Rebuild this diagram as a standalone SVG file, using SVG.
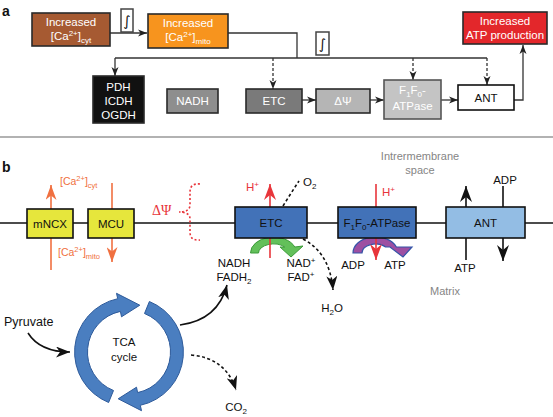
<svg xmlns="http://www.w3.org/2000/svg" width="553" height="417" viewBox="0 0 553 417">
<defs>
<style>
text{font-family:"Liberation Sans",Arial,sans-serif;}
.w{fill:#fff;font-size:11.5px;text-anchor:middle;}
.k{fill:#111;font-size:11.5px;text-anchor:middle;}
.g{fill:#858585;font-size:11px;text-anchor:middle;}
.o{fill:#f07040;font-size:10.5px;}
.r{fill:#e8353b;font-size:11.5px;}
.ln{fill:none;stroke:#333;stroke-width:1.3;}
.da{fill:none;stroke:#333;stroke-width:1.3;stroke-dasharray:3,2;}
.bx{stroke:#2a2a2a;stroke-width:1.6;}
.bb{stroke:#111;stroke-width:1.6;}
</style>
<marker id="mA" markerUnits="userSpaceOnUse" markerWidth="10" markerHeight="8" refX="9" refY="4" orient="auto"><path d="M0,0.5 L9,4 L0,7.5 L2.5,4 z" fill="#222"/></marker>
<marker id="mB" markerUnits="userSpaceOnUse" markerWidth="18" markerHeight="12" refX="16" refY="6" orient="auto"><path d="M0,0 L16,6 L0,12 L5,6 z" fill="#111"/></marker>
<marker id="mR" markerUnits="userSpaceOnUse" markerWidth="18" markerHeight="12" refX="16" refY="6" orient="auto"><path d="M0,0 L16,6 L0,12 L5,6 z" fill="#e8353b"/></marker>
<marker id="mO" markerUnits="userSpaceOnUse" markerWidth="16" markerHeight="11" refX="15" refY="5.5" orient="auto"><path d="M0,0 L15,5.5 L0,11 L4.5,5.5 z" fill="#f07040"/></marker>
<marker id="mC" markerUnits="userSpaceOnUse" markerWidth="15" markerHeight="11" refX="14" refY="5.5" orient="auto"><path d="M0,0 L14,5.5 L0,11 L4,5.5 z" fill="#111"/></marker>
</defs>
<rect width="553" height="417" fill="#fff"/>

<!-- Panel labels -->
<text x="2" y="16" font-size="14" font-weight="bold" fill="#111">a</text>
<text x="2" y="172" font-size="14" font-weight="bold" fill="#111">b</text>
<line x1="0" y1="137" x2="553" y2="137" stroke="#666" stroke-width="1.2"/>

<!-- Panel a connectors -->
<g id="connectors-a">
<line class="ln" x1="110" y1="33" x2="147" y2="33" marker-end="url(#mA)"/>
<polyline class="ln" points="228,33 297,33 297,58"/>
<line class="ln" x1="115" y1="58" x2="487" y2="58"/>
<line class="ln" x1="115" y1="58" x2="115" y2="76" marker-end="url(#mA)"/>
<line class="da" x1="273" y1="58" x2="273" y2="89" marker-end="url(#mA)"/>
<line class="da" x1="413" y1="58" x2="413" y2="80" marker-end="url(#mA)"/>
<line class="da" x1="487" y1="58" x2="487" y2="85" marker-end="url(#mA)"/>
<line class="ln" x1="302" y1="100" x2="316" y2="100" marker-end="url(#mA)"/>
<line class="ln" x1="370" y1="100" x2="384" y2="100" marker-end="url(#mA)"/>
<line class="ln" x1="441" y1="100" x2="458" y2="100" marker-end="url(#mA)"/>
<polyline class="ln" points="514,100 523,100 523,45" marker-end="url(#mA)"/>
</g>

<!-- Panel a nodes -->
<g id="cyt">
<rect class="bx" x="32" y="13" width="78" height="33" fill="#a65a32"/>
<text class="w" x="71" y="26">Increased</text>
<text class="w" x="71" y="40">[Ca<tspan font-size="8" dy="-4.5">2+</tspan><tspan dy="4.5">]</tspan><tspan font-size="8" dy="3">cyt</tspan></text>
</g>
<g id="int1">
<rect x="121" y="9" width="12" height="23" fill="#fff" stroke="#444" stroke-width="1.5"/>
<text x="127" y="26" font-size="14" text-anchor="middle" fill="#111" style="font-family:'DejaVu Sans',sans-serif">∫</text>
</g>
<g id="mito">
<rect class="bx" x="148" y="14" width="80" height="34" fill="#f7941e"/>
<text class="w" x="188" y="27">Increased</text>
<text class="w" x="188" y="41">[Ca<tspan font-size="8" dy="-4.5">2+</tspan><tspan dy="4.5">]</tspan><tspan font-size="8" dy="3">mito</tspan></text>
</g>
<g id="int2">
<rect x="316" y="32" width="13" height="23" fill="#fff" stroke="#444" stroke-width="1.5"/>
<text x="322.5" y="49" font-size="14" text-anchor="middle" fill="#111" style="font-family:'DejaVu Sans',sans-serif">∫</text>
</g>
<g id="atpprod">
<rect class="bx" x="463" y="12" width="84" height="32" fill="#e3272b"/>
<text class="w" x="505" y="25">Increased</text>
<text class="w" x="505" y="39">ATP production</text>
</g>
<g id="pdh">
<rect class="bx" x="93" y="76" width="51" height="47" fill="#111"/>
<text class="w" x="118.5" y="91">PDH</text>
<text class="w" x="118.5" y="105">ICDH</text>
<text class="w" x="118.5" y="119">OGDH</text>
</g>
<g id="nadh-a">
<rect class="bx" x="167" y="89" width="51" height="24" fill="#8e8e8e"/>
<text class="w" x="192.5" y="105">NADH</text>
</g>
<g id="etc-a">
<rect class="bx" x="246" y="89" width="56" height="24" fill="#7a7a7a"/>
<text class="w" x="274" y="105">ETC</text>
</g>
<g id="dpsi-a">
<rect class="bx" x="316" y="89" width="54" height="24" fill="#b5b5b5"/>
<text class="w" x="343" y="104.5" font-size="10">ΔΨ</text>
</g>
<g id="f1f0-a">
<rect x="384" y="80" width="57" height="39" fill="#c4c4c4" stroke="#555" stroke-width="1.6"/>
<text class="w" x="412.5" y="94">F<tspan font-size="8" dy="2.5">1</tspan><tspan dy="-2.5">F</tspan><tspan font-size="8" dy="2.5">0</tspan><tspan dy="-2.5">-</tspan></text>
<text class="w" x="412.5" y="110">ATPase</text>
</g>
<g id="ant-a">
<rect class="bb" x="458" y="85" width="56" height="25" fill="#fff"/>
<text class="k" x="486" y="101.5">ANT</text>
</g>

<!-- Panel b -->
<text class="g" x="420" y="160">Intrermembrane</text>
<text class="g" x="420" y="174">space</text>
<text class="g" x="445" y="295">Matrix</text>

<g id="connectors-b">
<line x1="0" y1="223" x2="553" y2="223" stroke="#111" stroke-width="1.5"/>
<!-- green arc -->
<path d="M250.5,253 A23,16 0 0 1 294.8,247 L303,246 L291,257 L280,247 L284.7,247 A15,9 0 0 0 258.5,253 Z" fill="#63c05a" stroke="#3d9b3a" stroke-width="1"/>
<!-- purple arc -->
<path d="M353,253 A22.5,16 0 0 1 396.4,247 L412,247 L403,257 L390,247 L385.6,247 A13.5,9 0 0 0 362,253 Z" fill="#9d4fa2" stroke="#3455a8" stroke-width="1.2"/>
<line x1="51" y1="270" x2="51" y2="185" stroke="#f07040" stroke-width="1.6" marker-end="url(#mO)"/>
<line x1="112" y1="183" x2="112" y2="262" stroke="#f07040" stroke-width="1.6" marker-end="url(#mO)"/>
<line x1="270" y1="258" x2="270" y2="184" stroke="#e8353b" stroke-width="1.6" marker-end="url(#mR)"/>
<line x1="376" y1="184" x2="376" y2="260" stroke="#e8353b" stroke-width="1.6" marker-end="url(#mR)"/>
<line x1="466" y1="260" x2="466" y2="186" stroke="#111" stroke-width="1.6" marker-end="url(#mB)"/>
<line x1="503" y1="186" x2="503" y2="261" stroke="#111" stroke-width="1.6" marker-end="url(#mB)"/>
<path d="M283,206 Q291,193 299,181" fill="none" stroke="#111" stroke-width="1.6" stroke-dasharray="3,2.5"/>
<path d="M303,239 Q330,253 333,290" fill="none" stroke="#111" stroke-width="1.6" stroke-dasharray="3,2.5" marker-end="url(#mC)"/>
<path d="M28,333 Q40,352 70,352" fill="none" stroke="#111" stroke-width="1.6" marker-end="url(#mC)"/>
<path d="M180,325 Q218,320 227,285" fill="none" stroke="#111" stroke-width="1.6" marker-end="url(#mC)"/>
<path d="M191,355 Q226,358 236,390" fill="none" stroke="#111" stroke-width="1.6" stroke-dasharray="3,2.5" marker-end="url(#mC)"/>
<path d="M200,184 Q190,183 190,192 L190,205 Q190,212 179,212 Q190,212 190,219 L190,232 Q190,241 200,240" fill="none" stroke="#e8353b" stroke-width="1.6" stroke-dasharray="2,2.2"/>
</g>

<g id="mncx">
<rect class="bb" x="27" y="209" width="46" height="29" fill="#e6e63c"/>
<text class="k" x="50" y="228">mNCX</text>
</g>
<g id="mcu">
<rect class="bb" x="88" y="209" width="46" height="29" fill="#e6e63c"/>
<text class="k" x="111" y="228">MCU</text>
</g>
<g id="etc-b">
<rect class="bb" x="235" y="207" width="72" height="31" fill="#4272b8"/>
<text class="k" x="271" y="227">ETC</text>
</g>
<g id="f1f0-b">
<rect class="bb" x="338" y="207" width="78" height="31" fill="#4272b8"/>
<text class="k" x="377" y="227">F<tspan font-size="8" dy="2.5">1</tspan><tspan dy="-2.5">F</tspan><tspan font-size="8" dy="2.5">0</tspan><tspan dy="-2.5">-ATPase</tspan></text>
</g>
<g id="ant-b">
<rect class="bb" x="446" y="207" width="79" height="31" fill="#93bde4"/>
<text class="k" x="485.5" y="227">ANT</text>
</g>

<g id="tca">
<path d="M108.6,402.5 A54.5,54.5 0 0 1 117.7,298.7 L116.5,293.3 L139.8,305.2 L121.5,316.8 L120.4,311.4 A41.5,41.5 0 0 0 113.5,390.5 Z" fill="#4a7ec0" stroke="#2d5a9a" stroke-width="1"/>
<path d="M149.4,301.5 A54.5,54.5 0 0 1 140.3,405.3 L141.5,410.7 L118.2,398.8 L136.5,387.2 L137.6,392.6 A41.5,41.5 0 0 0 144.5,313.5 Z" fill="#4a7ec0" stroke="#2d5a9a" stroke-width="1"/>
<text class="k" x="124" y="346">TCA</text>
<text class="k" x="124" y="361">cycle</text>
</g>

<g id="labels-b">
<text class="o" x="60" y="185">[Ca<tspan font-size="7.5" dy="-4">2+</tspan><tspan dy="4">]</tspan><tspan font-size="7.5" dy="2.5">cyt</tspan></text>
<text class="o" x="58" y="256">[Ca<tspan font-size="7.5" dy="-4">2+</tspan><tspan dy="4">]</tspan><tspan font-size="7.5" dy="2.5">mito</tspan></text>
<text x="152" y="215" font-size="14" fill="#e8353b" style="font-family:'Liberation Serif',serif">ΔΨ</text>
<text class="r" x="246" y="191">H<tspan font-size="8" dy="-4.5">+</tspan></text>
<text class="r" x="382" y="196">H<tspan font-size="8" dy="-4.5">+</tspan></text>
<text x="303" y="186" font-size="11.5" fill="#111">O<tspan font-size="8" dy="3">2</tspan></text>
<text class="k" x="234" y="267">NADH</text>
<text class="k" x="234" y="281">FADH<tspan font-size="8" dy="3">2</tspan></text>
<text class="k" x="301" y="267">NAD<tspan font-size="8" dy="-4.5">+</tspan></text>
<text class="k" x="301" y="281">FAD<tspan font-size="8" dy="-4.5">+</tspan></text>
<text class="k" x="332" y="312">H<tspan font-size="8" dy="3">2</tspan><tspan dy="-3">O</tspan></text>
<text class="k" x="353" y="269">ADP</text>
<text class="k" x="395" y="269">ATP</text>
<text class="k" x="465" y="272">ATP</text>
<text class="k" x="505" y="184">ADP</text>
<text x="4" y="326" font-size="12.5" fill="#111">Pyruvate</text>
<text class="k" x="236" y="411">CO<tspan font-size="8" dy="3">2</tspan></text>
</g>
</svg>
